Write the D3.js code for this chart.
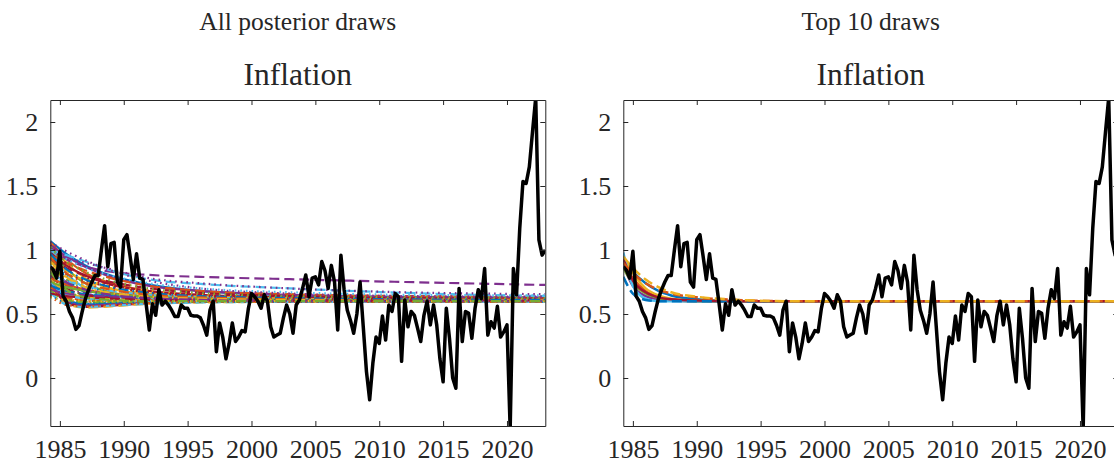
<!DOCTYPE html>
<html>
<head>
<meta charset="utf-8">
<script src="https://cdn.jsdelivr.net/npm/d3@7/dist/d3.min.js"></script>
<style>
  html, body { margin: 0; padding: 0; background: #fff; }
  svg { display: block; }
  text { font-family: "Liberation Serif", "Times New Roman", serif; fill: #262626; }
</style>
</head>
<body>
<svg id="chart" width="1114" height="467"></svg>
<script>
// Quarterly inflation, first observation 1984Q2 (plotted at 1984.25)
const startYear = 1984.25;
const inflation = [
  0.87, 0.84, 0.78, 0.99, 0.64, 0.60, 0.52, 0.47, 0.38, 0.41, 0.52, 0.62,
  0.69, 0.75, 0.80, 0.80, 1.00, 1.19, 0.87, 1.05, 1.06, 0.75, 0.71, 1.08,
  1.12, 0.95, 0.77, 0.97, 0.78, 0.77, 0.58, 0.375, 0.58, 0.49, 0.69, 0.57,
  0.60, 0.57, 0.53, 0.48, 0.48, 0.57, 0.545, 0.545, 0.49, 0.485, 0.485, 0.47,
  0.41, 0.335, 0.53, 0.60, 0.205, 0.43, 0.32, 0.15, 0.27, 0.43, 0.285, 0.32,
  0.37, 0.36, 0.54, 0.66, 0.635, 0.60, 0.545, 0.65, 0.60, 0.40, 0.32, 0.335,
  0.35, 0.47, 0.57, 0.50, 0.35, 0.57, 0.61, 0.70, 0.805, 0.635, 0.78, 0.79,
  0.727, 0.91, 0.84, 0.70, 0.88, 0.75, 0.375, 0.96, 0.69, 0.53, 0.45, 0.35,
  0.50, 0.75, 0.40, 0.05, -0.17, 0.115, 0.32, 0.27, 0.485, 0.297, 0.57, 0.52,
  0.66, 0.635, 0.13, 0.61, 0.40, 0.52, 0.49, 0.39, 0.285, 0.49, 0.60, 0.415,
  0.57, 0.415, 0.15, -0.03, 0.545, 0.31, 0.0, -0.08, 0.70, 0.285, 0.52, 0.505,
  0.31, 0.545, 0.69, 0.62, 0.855, 0.335, 0.44, 0.39, 0.56, 0.32, 0.36, 0.415,
  -0.40, 0.855, 0.65, 1.17, 1.535, 1.52, 1.65, 1.925, 2.19, 1.08, 0.96, 1.00
];

// Forecast paths from every posterior draw, sampled at these years
const allDrawYears = [1984.25, 1985.5, 1987, 1989, 1992, 1996, 2003, 2012, 2023];
const allDraws = [
  [1.07, 0.97, 0.88, 0.80, 0.73, 0.68, 0.645, 0.625, 0.615],
  [1.06, 0.93, 0.82, 0.74, 0.68, 0.645, 0.62, 0.61, 0.605],
  [1.05, 0.90, 0.78, 0.70, 0.65, 0.625, 0.61, 0.605, 0.60],
  [1.04, 0.95, 0.87, 0.79, 0.72, 0.68, 0.65, 0.635, 0.63],
  [1.03, 0.86, 0.74, 0.67, 0.63, 0.615, 0.605, 0.60, 0.60],
  [1.01, 0.82, 0.70, 0.64, 0.615, 0.605, 0.60, 0.60, 0.60],
  [0.98, 0.88, 0.80, 0.73, 0.68, 0.65, 0.63, 0.62, 0.615],
  [0.97, 0.78, 0.67, 0.62, 0.605, 0.60, 0.60, 0.60, 0.60],
  [0.96, 0.90, 0.84, 0.78, 0.72, 0.68, 0.655, 0.64, 0.635],
  [0.95, 0.84, 0.76, 0.70, 0.66, 0.635, 0.62, 0.61, 0.61],
  [1.02, 0.93, 0.87, 0.83, 0.805, 0.79, 0.772, 0.75, 0.727],
  [0.94, 0.74, 0.64, 0.61, 0.60, 0.60, 0.60, 0.60, 0.60],
  [1.00, 0.96, 0.91, 0.84, 0.77, 0.735, 0.70, 0.665, 0.64],
  [0.93, 0.86, 0.80, 0.75, 0.70, 0.665, 0.64, 0.625, 0.62],
  [0.92, 0.80, 0.72, 0.67, 0.635, 0.62, 0.61, 0.605, 0.60],
  [0.91, 0.70, 0.62, 0.60, 0.595, 0.595, 0.595, 0.595, 0.595],
  [0.90, 0.83, 0.77, 0.72, 0.68, 0.65, 0.63, 0.62, 0.615],
  [0.99, 0.94, 0.90, 0.85, 0.78, 0.74, 0.70, 0.67, 0.655],
  [0.89, 0.77, 0.70, 0.655, 0.63, 0.615, 0.605, 0.60, 0.60],
  [0.88, 0.68, 0.61, 0.595, 0.595, 0.595, 0.595, 0.595, 0.595],
  [0.87, 0.81, 0.76, 0.71, 0.67, 0.645, 0.63, 0.62, 0.615],
  [0.86, 0.74, 0.68, 0.645, 0.625, 0.61, 0.605, 0.60, 0.60],
  [0.85, 0.66, 0.60, 0.59, 0.595, 0.60, 0.60, 0.60, 0.60],
  [0.84, 0.78, 0.73, 0.69, 0.655, 0.635, 0.62, 0.61, 0.61],
  [0.83, 0.72, 0.66, 0.63, 0.615, 0.605, 0.60, 0.60, 0.60],
  [0.82, 0.64, 0.59, 0.585, 0.59, 0.595, 0.595, 0.595, 0.595],
  [0.81, 0.76, 0.72, 0.68, 0.65, 0.63, 0.615, 0.61, 0.605],
  [0.80, 0.70, 0.65, 0.625, 0.61, 0.605, 0.60, 0.60, 0.60],
  [0.79, 0.62, 0.575, 0.58, 0.59, 0.595, 0.595, 0.595, 0.595],
  [0.78, 0.73, 0.69, 0.66, 0.635, 0.62, 0.61, 0.605, 0.605],
  [0.77, 0.67, 0.63, 0.615, 0.605, 0.60, 0.60, 0.60, 0.60],
  [0.76, 0.60, 0.565, 0.575, 0.59, 0.595, 0.595, 0.595, 0.595],
  [0.75, 0.71, 0.68, 0.655, 0.635, 0.62, 0.61, 0.605, 0.60],
  [0.74, 0.65, 0.62, 0.605, 0.60, 0.60, 0.60, 0.60, 0.60],
  [0.73, 0.59, 0.555, 0.565, 0.585, 0.595, 0.595, 0.595, 0.595],
  [0.72, 0.68, 0.655, 0.64, 0.625, 0.615, 0.605, 0.60, 0.60],
  [0.71, 0.63, 0.605, 0.60, 0.60, 0.60, 0.60, 0.60, 0.60],
  [0.70, 0.58, 0.55, 0.56, 0.58, 0.59, 0.595, 0.595, 0.595],
  [0.69, 0.66, 0.645, 0.635, 0.625, 0.615, 0.605, 0.60, 0.60],
  [0.68, 0.61, 0.595, 0.595, 0.595, 0.595, 0.595, 0.595, 0.595],
  [0.67, 0.575, 0.555, 0.565, 0.58, 0.59, 0.595, 0.595, 0.595],
  [0.66, 0.64, 0.63, 0.62, 0.61, 0.605, 0.60, 0.60, 0.60],
  [0.65, 0.59, 0.58, 0.585, 0.59, 0.595, 0.595, 0.595, 0.595],
  [0.64, 0.57, 0.56, 0.57, 0.585, 0.595, 0.595, 0.595, 0.595],
  [0.63, 0.61, 0.605, 0.60, 0.60, 0.60, 0.60, 0.60, 0.60],
  [1.06, 0.99, 0.92, 0.84, 0.76, 0.70, 0.66, 0.64, 0.635],
  [1.02, 0.91, 0.83, 0.76, 0.70, 0.665, 0.64, 0.63, 0.625],
  [0.99, 0.93, 0.86, 0.80, 0.74, 0.70, 0.67, 0.65, 0.645],
  [1.04, 0.89, 0.79, 0.72, 0.67, 0.64, 0.62, 0.61, 0.605],
  [0.97, 0.85, 0.77, 0.71, 0.665, 0.64, 0.625, 0.615, 0.61],
  [0.94, 0.82, 0.74, 0.69, 0.65, 0.63, 0.615, 0.605, 0.60],
  [0.91, 0.79, 0.71, 0.665, 0.635, 0.62, 0.61, 0.60, 0.60],
  [0.87, 0.75, 0.69, 0.65, 0.625, 0.61, 0.60, 0.60, 0.60],
  [0.83, 0.69, 0.63, 0.61, 0.60, 0.60, 0.60, 0.60, 0.60]
];

// Forecast paths from the ten best draws
const topDrawYears = [1984.25, 1985, 1986, 1987, 1988, 1990, 1993, 1997, 2023];
const topDraws = [
  [0.92, 0.83, 0.74, 0.68, 0.645, 0.615, 0.60, 0.60, 0.60],
  [0.90, 0.78, 0.68, 0.635, 0.615, 0.60, 0.60, 0.60, 0.60],
  [0.95, 0.82, 0.70, 0.645, 0.62, 0.605, 0.60, 0.60, 0.60],
  [0.88, 0.72, 0.64, 0.615, 0.605, 0.60, 0.60, 0.60, 0.60],
  [0.86, 0.74, 0.66, 0.625, 0.61, 0.60, 0.60, 0.60, 0.60],
  [0.98, 0.72, 0.62, 0.60, 0.60, 0.60, 0.60, 0.60, 0.60],
  [0.93, 0.76, 0.67, 0.63, 0.615, 0.605, 0.60, 0.60, 0.60],
  [0.79, 0.66, 0.61, 0.60, 0.60, 0.60, 0.60, 0.60, 0.60],
  [0.90, 0.82, 0.74, 0.69, 0.66, 0.63, 0.61, 0.60, 0.60],
  [0.95, 0.86, 0.77, 0.71, 0.67, 0.635, 0.612, 0.60, 0.60]
];

const yTicks = [0, 0.5, 1, 1.5, 2];
const xTicks = [1985, 1990, 1995, 2000, 2005, 2010, 2015, 2020];
const panelTitles = ["All posterior draws", "Top 10 draws"];
const seriesName = "Inflation";

// MATLAB-style colour and line-style cycling
const colorOrder = ["#0072BD", "#D95319", "#EDB120", "#7E2F8E", "#77AC30", "#4DBEEE", "#A2142F"];
const dashOrder = [null, "10,5", "1.6,4", "10,4,1.6,4"];

const svg = d3.select("#chart");
const axisColor = "#262626";

const panels = [
  { left: 50.3, right: 545.3, title: panelTitles[0], years: allDrawYears, draws: allDraws, width: 2.2 },
  { left: 623.3, right: 1118.3, title: panelTitles[1], years: topDrawYears, draws: topDraws, width: 2.5 }
];
const plotTop = 100, plotBottom = 426;

panels.forEach((p, pi) => {
  const x = d3.scaleLinear().domain([1984.25, 2023.0]).range([p.left, p.right]);
  const y = d3.scaleLinear().domain([-0.375, 2.172]).range([plotBottom, plotTop]);
  const g = svg.append("g");
  const cx = (p.left + p.right) / 2;

  g.append("text").attr("x", cx).attr("y", 30).attr("text-anchor", "middle")
    .attr("font-size", 25.5).text(p.title);
  g.append("text").attr("x", cx).attr("y", 85).attr("text-anchor", "middle")
    .attr("font-size", 31.5).text(seriesName);

  const clipId = "clip" + pi;
  svg.append("clipPath").attr("id", clipId).append("rect")
    .attr("x", p.left).attr("y", plotTop).attr("width", p.right - p.left).attr("height", plotBottom - plotTop);

  const plot = g.append("g").attr("clip-path", `url(#${clipId})`);

  const drawLine = d3.line()
    .x((d, i) => x(p.years[i]))
    .y(d => y(d))
    .curve(d3.curveMonotoneX);

  p.draws.forEach((d, i) => {
    const dash = dashOrder[Math.floor(i / colorOrder.length) % dashOrder.length];
    plot.append("path")
      .attr("d", drawLine(d))
      .attr("fill", "none")
      .attr("stroke", colorOrder[i % colorOrder.length])
      .attr("stroke-width", p.width)
      .attr("stroke-dasharray", dash);
  });

  const dataLine = d3.line()
    .x((d, i) => x(startYear + i * 0.25))
    .y(d => y(d));
  plot.append("path")
    .attr("d", dataLine(inflation))
    .attr("fill", "none")
    .attr("stroke", "#000")
    .attr("stroke-width", 3.5)
    .attr("stroke-linejoin", "round");

  // Box axes with inward ticks on all four sides
  const axB = d3.axisBottom(x).tickValues(xTicks).tickFormat(d3.format("d")).tickSizeInner(-5).tickSizeOuter(0).tickPadding(14);
  const axT = d3.axisTop(x).tickValues(xTicks).tickFormat("").tickSizeInner(-5).tickSizeOuter(0);
  const axL = d3.axisLeft(y).tickValues(yTicks).tickFormat(d3.format("")).tickSizeInner(-5).tickSizeOuter(0).tickPadding(12);
  const axR = d3.axisRight(y).tickValues(yTicks).tickFormat("").tickSizeInner(-5).tickSizeOuter(0);

  const gb = g.append("g").attr("transform", `translate(0,${plotBottom})`).call(axB);
  const gt = g.append("g").attr("transform", `translate(0,${plotTop})`).call(axT);
  const gl = g.append("g").attr("transform", `translate(${p.left},0)`).call(axL);
  const gr = g.append("g").attr("transform", `translate(${p.right},0)`).call(axR);

  [gb, gt, gl, gr].forEach(a => {
    a.select(".domain").attr("stroke", axisColor).attr("stroke-width", 1);
    a.selectAll(".tick line").attr("stroke", axisColor);
    a.selectAll("text").attr("font-family", "Liberation Serif").attr("fill", axisColor);
  });
  gb.selectAll("text").attr("font-size", 26).attr("dy", "0.71em");
  gl.selectAll("text").attr("font-size", 26);
});
</script>
</body>
</html>
